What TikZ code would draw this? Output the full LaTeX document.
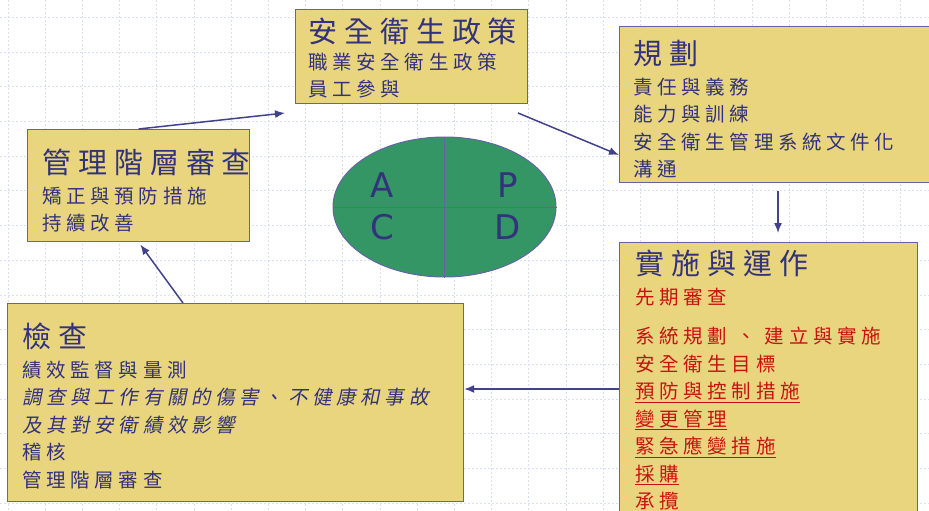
\documentclass[tikz,border=0pt]{standalone}
\usepackage{fontspec}
\setmainfont{Noto Sans CJK TC}[LetterSpace=24]
\newfontfamily\slantcjk{Noto Sans CJK TC}[LetterSpace=24,FakeSlant=0.2]
\newfontfamily\latinsans{DejaVu Sans}
\usetikzlibrary{positioning,shapes.geometric,arrows.meta}

\definecolor{boxfill}{RGB}{233,213,126}
\definecolor{panelline}{RGB}{100,100,165}
\definecolor{ink}{RGB}{50,50,125}
\definecolor{alertred}{RGB}{200,18,18}
\definecolor{cyclegreen}{RGB}{52,150,100}
\definecolor{arrowink}{RGB}{65,65,140}
\definecolor{gridblue}{RGB}{218,222,248}

\newcommand{\boxhead}{\fontsize{29}{34}\selectfont}
\newcommand{\boxbody}{\fontsize{19.5}{27.5}\selectfont}

\tikzset{%
  % Specifications for style of nodes:
       panel/.style = {rectangle, draw=panelline, line width=1.2pt, fill=boxfill, anchor=north west, inner sep=0pt},
   paneltext/.style = {anchor=north west, inner sep=0pt, align=left, text=ink, font=\boxbody},
    pdcaring/.style = {ellipse, draw=panelline, line width=1pt, fill=cyclegreen, minimum width=223pt, minimum height=140pt, inner sep=0pt},
  pdcaletter/.style = {text=ink, font=\latinsans\fontsize{34}{34}\selectfont, inner sep=0pt},
        flow/.style = {draw=arrowink, line width=1.5pt, -{Latex[length=10pt,width=8pt]}},
    gridline/.style = {draw=gridblue, line width=0.7pt, dash pattern=on 2pt off 2pt},
}

\begin{document}
\begin{tikzpicture}[x=1pt, y=-1pt]
    \useasboundingbox (0,0) rectangle (929,511);
    \clip (0,0) rectangle (929,511);

    % Background grid
    \foreach \i in {0,...,24} \draw[gridline] (8+37.2*\i,0) -- ++(0,511);
    \foreach \j in {0,...,14} \draw[gridline] (0,17.3+34.7*\j) -- ++(929,0);

    % Draw nodes
    \node (policy)  [panel, minimum width=232pt, minimum height=94pt]  at (295,9)   {};
    \node (plan)    [panel, minimum width=315pt, minimum height=156pt] at (619,26)  {};
    \node (review)  [panel, minimum width=222pt, minimum height=112pt] at (27,129)  {};
    \node (operate) [panel, minimum width=298pt, minimum height=290pt] at (619,242) {};
    \node (check)   [panel, minimum width=456pt, minimum height=198pt] at (7,303)   {};

    \node (policytext)  [paneltext, below right=9pt and 13pt of policy.north west]
        {{\boxhead 安全衛生政策}\\[-1pt]
         職業安全衛生政策\\
         員工參與};
    \node (plantext)    [paneltext, below right=14pt and 14pt of plan.north west]
        {{\boxhead 規劃}\\[2pt]
         責任與義務\\
         能力與訓練\\
         安全衛生管理系統文件化\\
         溝通};
    \node (reviewtext)  [paneltext, below right=20pt and 15pt of review.north west]
        {{\boxhead 管理階層審查}\\[2pt]
         矯正與預防措施\\
         持續改善};
    \node (operatetext) [paneltext, text=alertred, below right=8pt and 16pt of operate.north west]
        {{\boxhead\color{ink}實施與運作}\\[2pt]
         先期審查\\[12pt]
         系統規劃 、 建立與實施\\
         安全衛生目標\\
         \underline{預防與控制措施}\\
         \underline{變更管理}\\
         \underline{緊急應變措施}\\
         \underline{採購}\\
         承攬};
    \node (checktext)   [paneltext, below right=20pt and 15pt of check.north west]
        {{\boxhead 檢查}\\[2pt]
         績效監督與量測\\
         {\slantcjk 調查與工作有關的傷害、不健康和事故}\\
         {\slantcjk 及其對安衛績效影響}\\
         稽核\\
         管理階層審查};

    % PDCA cycle
    \node (pdca) [pdcaring] at (444.5,207) {};
    \draw[panelline, line width=1pt] (pdca.north) -- (pdca.south);
    \draw[panelline, line width=1pt] (pdca.west) -- (pdca.east);
    \node (lettera) [pdcaletter] at (382,185) {A};
    \node (letterp) [pdcaletter] at (508,185) {P};
    \node (letterc) [pdcaletter] at (382,227) {C};
    \node (letterd) [pdcaletter] at (508,227) {D};

    % Draw arrows
    \coordinate (policyin)  at (285,113);
    \coordinate (policyout) at (518,113);
    \coordinate (planin)    at (619,155);
    \coordinate (downx)     at (778,0);
    \coordinate (backy)     at (0,389);
    \coordinate (checkout)  at (183,303);

    \draw[flow] (review.north) -- (policyin);
    \draw[flow] (policyout) -- (planin);
    \draw[flow, shorten <=8pt, shorten >=9pt] (plan.south -| downx) -- (operate.north -| downx);
    \draw[flow] (operate.west |- backy) -- (check.east |- backy);
    \draw[flow, shorten >=3pt] (check.north -| checkout) -- (review.south);

\end{tikzpicture}
\end{document}
